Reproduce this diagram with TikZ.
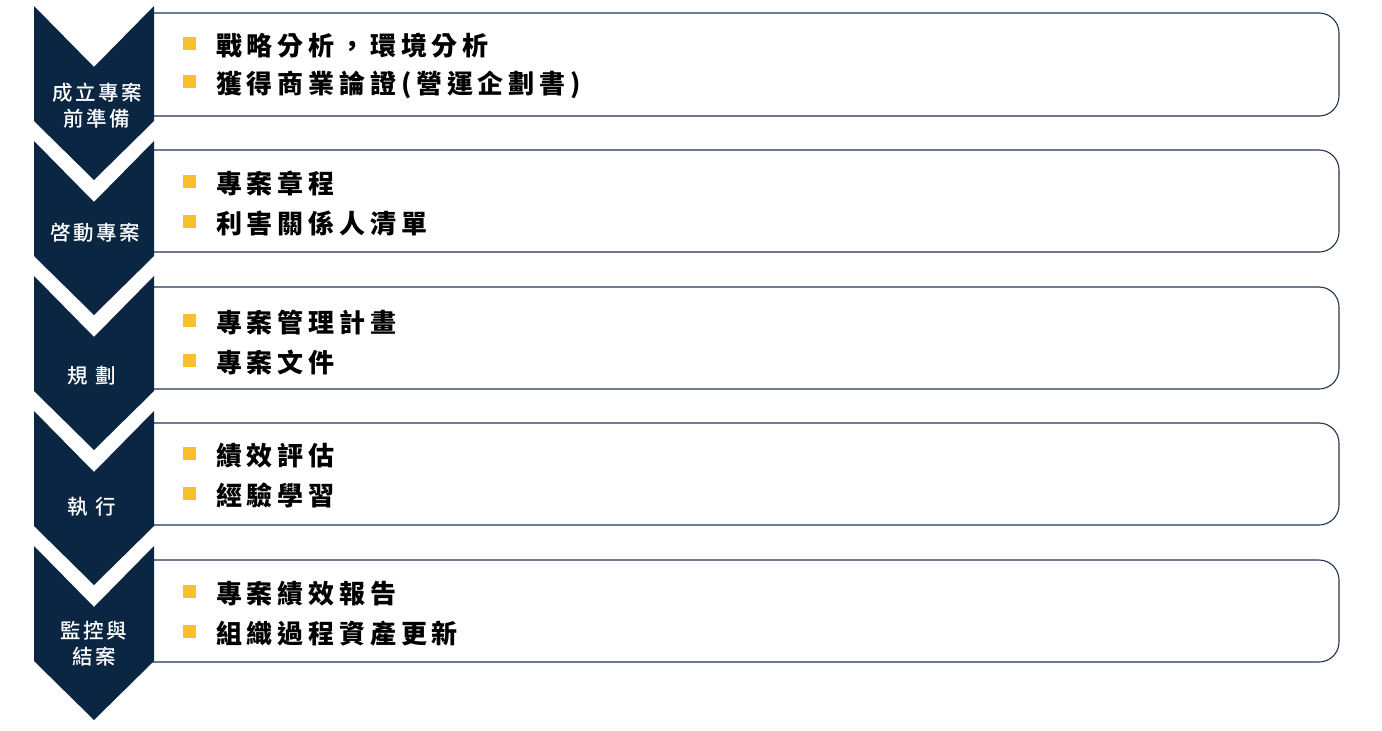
\documentclass[tikz,border=0pt]{standalone}
\usepackage{fontspec}
\newfontfamily\itemfont[LetterSpace=18.5]{Noto Sans CJK TC}
\newfontfamily\labelfont[LetterSpace=12,UprightFont={* Medium}]{Noto Sans CJK TC}
\definecolor{navy}{RGB}{10,38,66}
\definecolor{boxline}{RGB}{30,52,80}
\definecolor{bullet}{RGB}{251,191,45}
\tikzset{
  chev/.style={fill=navy, draw=none},
  itembox/.style={draw=boxline, line width=1.1pt, rounded corners=20pt},
  bulletsq/.style={fill=bullet, draw=none, minimum size=13pt, inner sep=0pt, outer sep=0pt},
  itemtext/.style={anchor=base west, inner sep=0pt, font=\itemfont\bfseries\fontsize{26}{30}\selectfont, text=black},
  chevlabel/.style={align=center, inner sep=0pt, font=\labelfont\fontsize{20.5}{26}\selectfont, text=white}
}
\begin{document}
\begin{tikzpicture}[x=1pt,y=-1pt]
\useasboundingbox (0,0) rectangle (1382,731);
% boxes
\foreach \t/\b in {13/116,150/252,287/389,423/525,560/662}{
  \draw[itembox] (150,\t) -- (1339,\t) -- (1339,\b) -- (150,\b);
}
% chevrons
\foreach \t in {6,141,276,411,546}{
  \fill[chev] (34,\t) -- (94,\t+61) -- (154,\t) -- (154,\t+115) -- (94,\t+174) -- (34,\t+115) -- cycle;
}
% chevron labels
\node[chevlabel] (c1) at (97,106) {成立專案\\前準備};
\node[chevlabel] (c2) at (95,233) {啓動專案};
\node[chevlabel] (c3) at (92,376) {規 劃};
\node[chevlabel] (c4) at (92,507) {執 行};
\node[chevlabel] (c5) at (94,644) {監控與\\結案};
% bullets and items
\foreach \y/\txt [count=\i] in {45/{戰略分析，環境分析},83/{獲得商業論證(營運企劃書)},
  183/{專案章程},223/{利害關係人清單},
  322/{專案管理計畫},362/{專案文件},
  455/{績效評估},495/{經驗學習},
  593/{專案績效報告},633/{組織過程資產更新}}{
  \node[bulletsq] (b\i) at (189.5,\y-2) {};
  \node[itemtext] (t\i) at (216,\y+10) {\txt};
}
\end{tikzpicture}
\end{document}
